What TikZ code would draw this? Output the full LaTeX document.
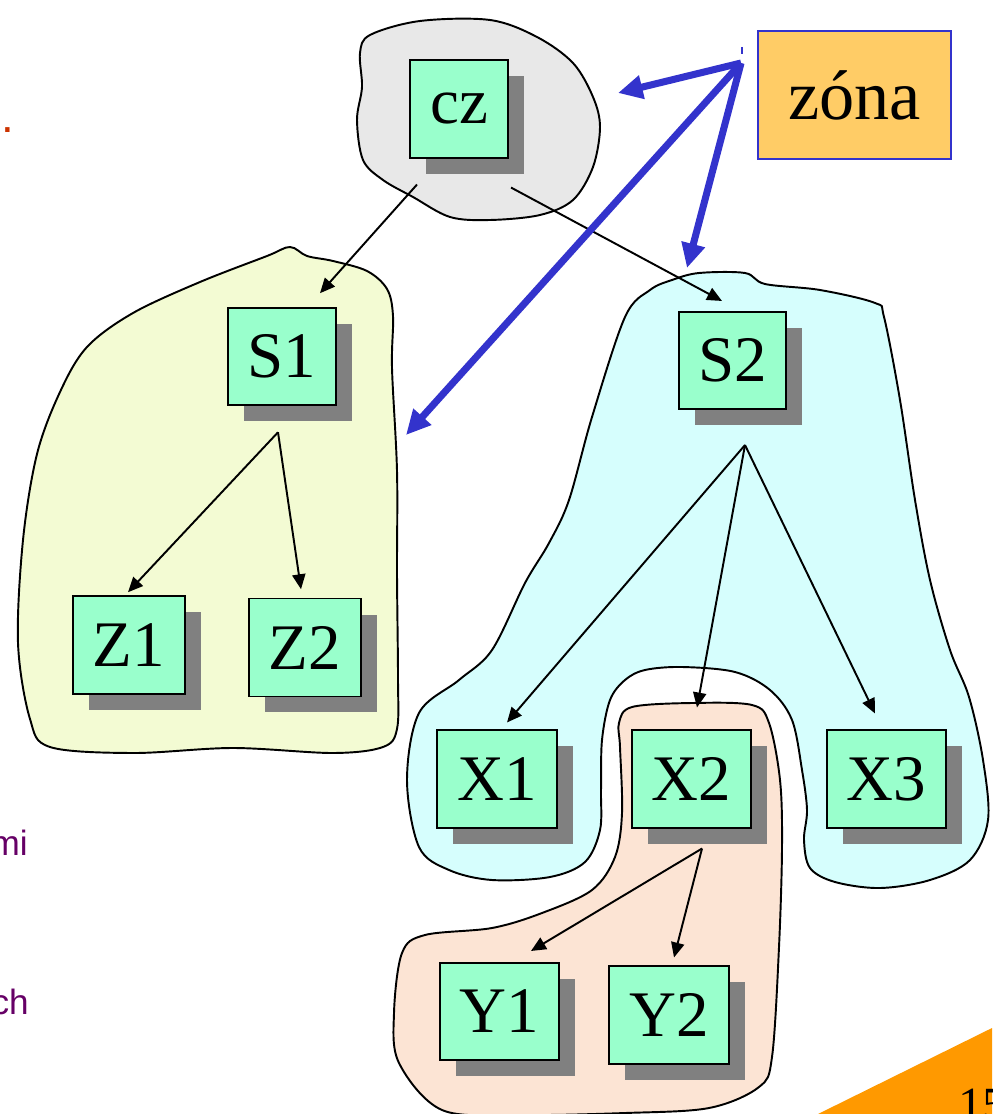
\documentclass[tikz,border=0pt]{standalone}
\usepackage{fontspec}
\setmainfont{Liberation Serif}
\newfontfamily\slidesans{Liberation Sans}
\usepackage{tikz}
\usetikzlibrary{arrows.meta, positioning, shadows, calc}
\definecolor{boxgreen}{RGB}{153,255,204}
\definecolor{shadowgray}{RGB}{128,128,128}
\definecolor{zblue}{RGB}{51,51,204}
\definecolor{zonefill}{RGB}{255,204,102}
\definecolor{czgray}{RGB}{232,232,232}
\definecolor{s1yellow}{RGB}{243,251,211}
\definecolor{s2cyan}{RGB}{214,254,253}
\definecolor{x2peach}{RGB}{252,228,212}
\definecolor{slideorange}{RGB}{255,153,0}
\definecolor{slidepurple}{RGB}{102,0,102}
\definecolor{slidered}{RGB}{204,51,0}

\begin{document}
\begin{tikzpicture}[x=0.02cm, y=-0.02cm,
    blob/.style={draw=black, line width=1.1pt},
    box/.style={draw=black, line width=0.9pt, fill=boxgreen, inner sep=0pt,
      minimum height=1.95cm, font=\fontsize{37}{40}\selectfont,
      drop shadow={shadow xshift=0.32cm, shadow yshift=-0.32cm, fill=shadowgray, opacity=1}},
    link/.style={-{Triangle[length=8.5pt, width=7.5pt]}, line width=1.1pt},
    zlink/.style={-{Triangle[length=14pt, width=13pt]}, line width=4pt, zblue}]
        \useasboundingbox (0,0) rectangle (992,1114);
        \clip (0,0) rectangle (992,1114);

        % Zones
        \draw[blob, fill=czgray] plot[smooth cycle, tension=0.55] coordinates {
          (420,21) (490,20) (537,37) (573,63) (593,97) (600,127) (593,167) (573,200)
          (540,215) (490,220) (450,217) (413,197) (383,180) (363,160) (357,120)
          (362,87) (360,53) (370,35)};
        \draw[blob, fill=s1yellow] plot[smooth cycle, tension=0.55] coordinates {
          (290,247) (307,256) (333,261) (367,271) (387,289) (393,316) (392,368)
          (397,471) (397,574) (398,678) (397,729) (383,747) (333,753) (233,748)
          (133,753) (50,747) (30,719) (18,643) (23,540) (37,454) (60,392) (87,347)
          (133,313) (200,282) (267,256)};
        \draw[blob, fill=s2cyan] plot[smooth cycle, tension=0.55] coordinates {
          (699,273) (745,273) (765,284) (820,290) (875,303) (884,317) (900,400)
          (915,500) (930,580) (950,650) (969,697) (983,760) (988,820) (970,860)
          (930,880) (880,888) (835,882) (810,868) (804,840) (807,810) (802,770)
          (792,720) (770,690) (735,672) (682,667) (645,670) (625,680) (610,700)
          (602,740) (601,790) (600,830) (585,862) (550,877) (492,880) (449,870)
          (419,847) (407,780) (419,713) (459,680) (492,650) (525,583) (549,543)
          (569,500) (592,417) (625,317) (650,290) (672,280)};
        \draw[blob, fill=x2peach] plot[smooth cycle, tension=0.55] coordinates {
          (632,707) (692,703) (752,705) (769,723) (780,780) (782,847) (779,947)
          (772,1057) (759,1087) (709,1108) (625,1113) (520,1115) (442,1110)
          (399,1063) (394,1013) (402,953) (425,935) (492,928) (542,913) (592,890)
          (615,857) (622,813) (620,747) (619,723)};

        % Domains
        \node[box, minimum width=1.96cm] (cz) at (459,109) {cz};
        \node[box, minimum width=2.16cm, minimum height=1.94cm] (S1) at (282,356.5) {S1};
        \node[box, minimum width=2.14cm] (S2) at (732.5,360.5) {S2};
        \node[box, minimum width=2.24cm, minimum height=1.96cm] (Z1) at (129,645) {Z1};
        \node[box, minimum width=2.24cm, minimum height=1.96cm] (Z2) at (305,647.5) {Z2};
        \node[box, minimum width=2.4cm] (X1) at (497,779) {X1};
        \node[box, minimum width=2.38cm] (X2) at (691.5,779) {X2};
        \node[box, minimum width=2.38cm] (X3) at (886.5,779) {X3};
        \node[box, minimum width=2.38cm] (Y1) at (499.5,1011.5) {Y1};
        \node[box, minimum width=2.4cm] (Y2) at (669,1015) {Y2};

        % Delegation
        \draw[link] ([shift={(-42,26)}]cz.south) -- ([shift={(38,-14)}]S1.north);
        \draw[link] ([shift={(52,29)}]cz.south) -- ([shift={(-10.5,-10)}]S2.north);
        \draw[link] ([shift={(-4,26.5)}]S1.south) -- ([shift={(-1,-3)}]Z1.north);
        \draw[link] ([shift={(-4,26.5)}]S1.south) -- ([shift={(-4,-8.5)}]Z2.north);
        \draw[link] ([shift={(12.5,35)}]S2.south) -- ([shift={(10,-7)}]X1.north);
        \draw[link] ([shift={(12.5,35)}]S2.south) -- ([shift={(5.5,-22)}]X2.north);
        \draw[link] ([shift={(12.5,35)}]S2.south) -- ([shift={(-11.5,-16)}]X3.north);
        \draw[link] ([shift={(10.5,20)}]X2.south) -- ([shift={(31.5,-11)}]Y1.north);
        \draw[link] ([shift={(10.5,20)}]X2.south) -- ([shift={(5,-8)}]Y2.north);

        % Zone label
        \node[draw=zblue, line width=1.1pt, fill=zonefill, minimum width=3.86cm,
          minimum height=2.56cm, font=\fontsize{40}{44}\selectfont] (zona) at (854.5,95) {zóna};
        \coordinate (zsrc) at ([shift={(-16,-32)}]zona.west);
        \coordinate (togray) at (618,93);
        \coordinate (tocyan) at (687,268);
        \coordinate (toyellow) at (406,435);
        \draw[zblue, line width=1.2pt] ([shift={(1,-16)}]zsrc) -- ([shift={(1,-9)}]zsrc);
        \draw[zlink] (zsrc) -- (togray);
        \draw[zlink] (zsrc) -- (tocyan);
        \draw[zlink] (zsrc) -- (toyellow);

        % Slide leftovers
        \node[anchor=base west, inner sep=0pt, text=slidered, font=\slidesans\fontsize{26}{28}\selectfont] (dot) at (1,133) {.};
        \node[anchor=base east, inner sep=0pt, text=slidepurple, font=\slidesans\fontsize{20}{24}\selectfont] (mi) at (28,855) {mi};
        \node[anchor=base east, inner sep=0pt, text=slidepurple, font=\slidesans\fontsize{20}{24}\selectfont] (ch) at (29,1014) {ch};
        \fill[slideorange] (818,1114) -- (992,1028) -- (992,1114) -- cycle;
        \node[anchor=base west, inner sep=0pt, font=\fontsize{28}{30}\selectfont] (pagenum) at (958,1121) {15};
\end{tikzpicture}
\end{document}
